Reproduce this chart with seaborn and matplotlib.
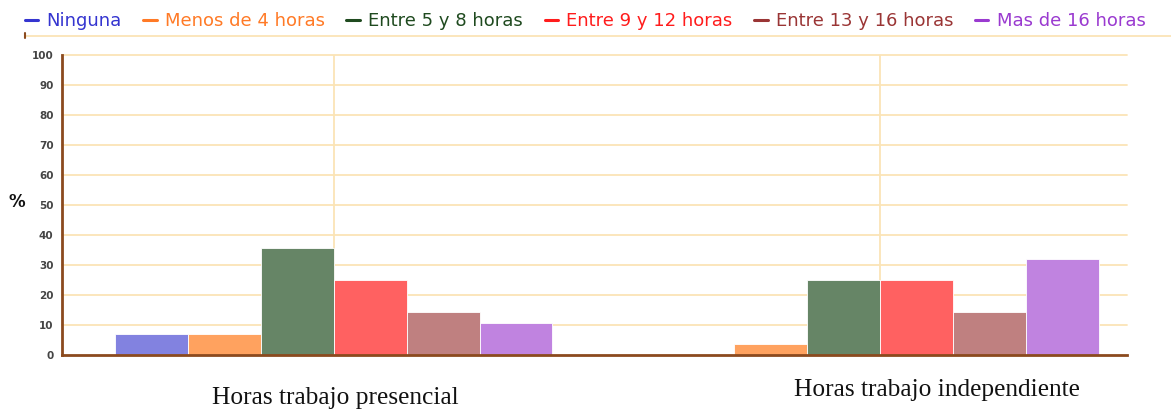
import matplotlib
matplotlib.use("Agg")
import matplotlib.pyplot as plt
from matplotlib.lines import Line2D
import seaborn as sns
import pandas as pd

categories = ["Horas trabajo presencial", "Horas trabajo independiente"]
series = ["Ninguna", "Menos de 4 horas", "Entre 5 y 8 horas",
          "Entre 9 y 12 horas", "Entre 13 y 16 horas", "Mas de 16 horas"]
presencial = [7.1, 7.1, 35.7, 25.0, 14.3, 10.7]
independiente = [0.0, 3.6, 25.0, 25.0, 14.3, 32.1]
yticks = [0, 10, 20, 30, 40, 50, 60, 70, 80, 90, 100]

bar_colors = ["#8282e0", "#ffa25f", "#668566", "#ff6161", "#bf8080", "#c083e0"]
legend_colors = ["#3535d0", "#ff7a26", "#1f4a1f", "#ff1c1c", "#9a3535", "#9a3ad0"]

rows = []
for s, a, b in zip(series, presencial, independiente):
    rows.append({"cat": categories[0], "serie": s, "val": a})
    rows.append({"cat": categories[1], "serie": s, "val": b})
df = pd.DataFrame(rows)

sns.set_style("white")
fig = plt.figure(figsize=(11.71, 4.11), dpi=100)
ax = fig.add_axes([0.0529, 0.1363, 0.9624 - 0.0529, 0.8662 - 0.1363])

sns.barplot(data=df, x="cat", y="val", hue="serie", hue_order=series,
            order=categories, palette=bar_colors, width=0.8, ax=ax,
            edgecolor="white", linewidth=0.6, legend=False, saturation=1)

ax.set_xlim(-0.498, 1.452)
ax.set_ylim(0, 100)
ax.set_yticks(yticks)
ax.set_yticklabels([str(v) for v in yticks], fontsize=7.5, fontweight="bold", color="#444444")
ax.set_xticks([])
ax.set_xlabel("")
ax.set_ylabel("")

grid_c = "#fbe4b6"
for v in yticks[1:]:
    ax.axhline(v, color=grid_c, lw=1.3, zorder=0, clip_on=False)
for xv in [0, 1]:
    ax.axvline(xv, color=grid_c, lw=1.3, zorder=0)

for s in ["top", "right"]:
    ax.spines[s].set_visible(False)
brown = "#8b4a1e"
ax.spines["left"].set_color(brown)
ax.spines["bottom"].set_color(brown)
ax.spines["left"].set_linewidth(2)
ax.spines["bottom"].set_linewidth(2)
ax.tick_params(axis="y", direction="out", length=4, width=1.5, color=brown, pad=2)

fig.text(17 / 1171, 1 - 202 / 411, "%", fontsize=12, fontweight="bold",
         ha="center", va="center", color="#111111")

fig.text(335 / 1171, 1 - 398 / 411, categories[0], family="Liberation Serif",
         fontsize=18.3, ha="center", va="center", color="#111111")
fig.text(937 / 1171, 1 - 390 / 411, categories[1], family="Liberation Serif",
         fontsize=18.3, ha="center", va="center", color="#111111")

# legend
handles = [Line2D([], [], color=c, lw=2.2) for c in legend_colors]
leg = fig.legend(handles, series, loc="center", bbox_to_anchor=(585 / 1171, 1 - 21 / 411),
                 ncol=6, frameon=False, fontsize=13, handlelength=0.75,
                 handletextpad=0.45, columnspacing=1.2)
for t, c in zip(leg.get_texts(), legend_colors):
    t.set_color(c)

fig.add_artist(Line2D([25 / 1171, 1.0], [1 - 36 / 411, 1 - 36 / 411],
                      color=grid_c, lw=1.3, transform=fig.transFigure))
fig.add_artist(Line2D([25 / 1171, 25 / 1171], [1 - 33 / 411, 1 - 38 / 411],
                      color=brown, lw=1.5, transform=fig.transFigure))

fig.savefig("out.png", dpi=100)
